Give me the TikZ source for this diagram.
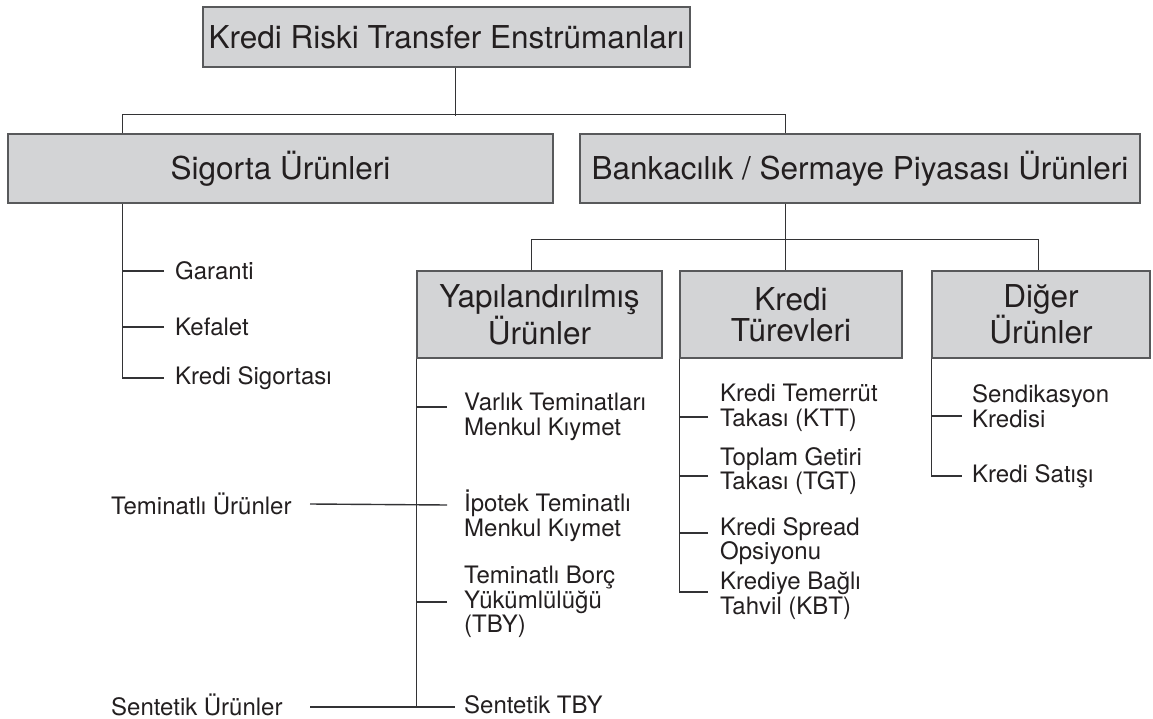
\documentclass[tikz,border=0pt]{standalone}
\usepackage{fontspec}
\setmainfont{TeX Gyre Heros}
\definecolor{kutugri}{HTML}{D3D4D6}
\definecolor{kenar}{HTML}{58595B}
\definecolor{cizgi}{HTML}{333335}
\definecolor{yazi}{HTML}{231F20}
\begin{document}
\begin{tikzpicture}[x=1pt,y=-1pt]
		\tikzstyle{every node}+=[inner sep=0pt, text=yazi]
		\tikzstyle{kutu}=[draw=kenar, line width=1.4pt, fill=kutugri, align=center, font=\fontsize{31.5}{31}\selectfont]
		\tikzstyle{yaprak}=[anchor=west, align=left, font=\fontsize{24}{24.5}\selectfont]
		\tikzstyle{hat}=[draw=cizgi, line width=1.4pt]
		\useasboundingbox (0,0) rectangle (1153,719);
		\node [kutu, minimum width=487, minimum height=60] (kta) at (446.5,37) {Kredi Riski Transfer Enstrümanları};
		\node [kutu, minimum width=545, minimum height=69] (sig) at (280.5,168.5) {Sigorta Ürünleri};
		\node [kutu, minimum width=560, minimum height=69] (bsp) at (860,168.5) {Bankacılık / Sermaye Piyasası Ürünleri};
		\node [kutu, minimum width=245, minimum height=87] (yap) at (539.5,314.5) {Yapılandırılmış\\Ürünler};
		\node [kutu, minimum width=222, minimum height=87] (kt) at (791,314.5) {Kredi\\Türevleri};
		\node [kutu, minimum width=218, minimum height=87] (dig) at (1041,314.5) {Diğer\\Ürünler};
		\node [yaprak] (gar) at (175,271) {Garanti};
		\node [yaprak] (kef) at (175,327) {Kefalet};
		\node [yaprak] (krs) at (175,378) {Kredi Sigortası};
		\node [yaprak] (vtm) at (464,417) {Varlık Teminatları\\Menkul Kıymet};
		\node [yaprak] (itm) at (464,516) {İpotek Teminatlı\\Menkul Kıymet};
		\node [yaprak] (tby) at (464,602) {Teminatlı Borç\\Yükümlülüğü\\(TBY)};
		\node [yaprak] (stby) at (464,705) {Sentetik TBY};
		\node [yaprak] (tu) at (111,504) {Teminatlı Ürünler};
		\node [yaprak] (su) at (111,705) {Sentetik Ürünler};
		\node [yaprak] (ktt) at (720,408) {Kredi Temerrüt\\Takası (KTT)};
		\node [yaprak] (tgt) at (720,471) {Toplam Getiri\\Takası (TGT)};
		\node [yaprak] (kso) at (720,541) {Kredi Spread\\Opsiyonu};
		\node [yaprak] (kbt) at (720,596) {Krediye Bağlı\\Tahvil (KBT)};
		\node [yaprak] (snd) at (972,406) {Sendikasyon\\Kredisi};
		\node [yaprak] (ksat) at (972,476) {Kredi Satışı};
		\draw [hat] ([xshift=253]kta.south west) -- ++(0,48);
		\draw [hat] ([xshift=115]sig.north west) -- ++(0,-19) -| ([xshift=206]bsp.north west);
		\draw [hat] ([xshift=206]bsp.south west) -- ([xshift=106]kt.north west);
		\draw [hat] ([xshift=115]yap.north west) -- ++(0,-31) -| ([xshift=107]dig.north west);
		\draw [hat] ([xshift=115]sig.south west) |- ([xshift=-11]krs.west);
		\draw [hat] ([xshift=-11]gar.west) -- ++(-41,0);
		\draw [hat] ([xshift=-11]kef.west) -- ++(-41,0);
		\draw [hat] (yap.south west) |- ([xshift=-9,yshift=-2]stby.west);
		\draw [hat] ([xshift=-17,yshift=10]vtm.west) -- ++(-30,0);
		\draw [hat] ([xshift=199]tu.west) -- ([xshift=-17,yshift=11]itm.west);
		\draw [hat] ([xshift=-17]tby.west) -- ++(-30,0);
		\draw [hat] ([xshift=199,yshift=-2]su.west) -- ([xshift=-9,yshift=-2]stby.west);
		\draw [hat] (kt.south west) |- ([xshift=-12,yshift=4]kbt.west);
		\draw [hat] ([xshift=-12,yshift=-9]ktt.west) -- ++(-28,0);
		\draw [hat] ([xshift=-12,yshift=-5]tgt.west) -- ++(-28,0);
		\draw [hat] ([xshift=-12,yshift=8]kso.west) -- ++(-28,0);
		\draw [hat] (dig.south west) |- ([xshift=-10]ksat.west);
		\draw [hat] ([xshift=-10,yshift=-10]snd.west) -- ++(-30,0);
	\end{tikzpicture}
\end{document}
